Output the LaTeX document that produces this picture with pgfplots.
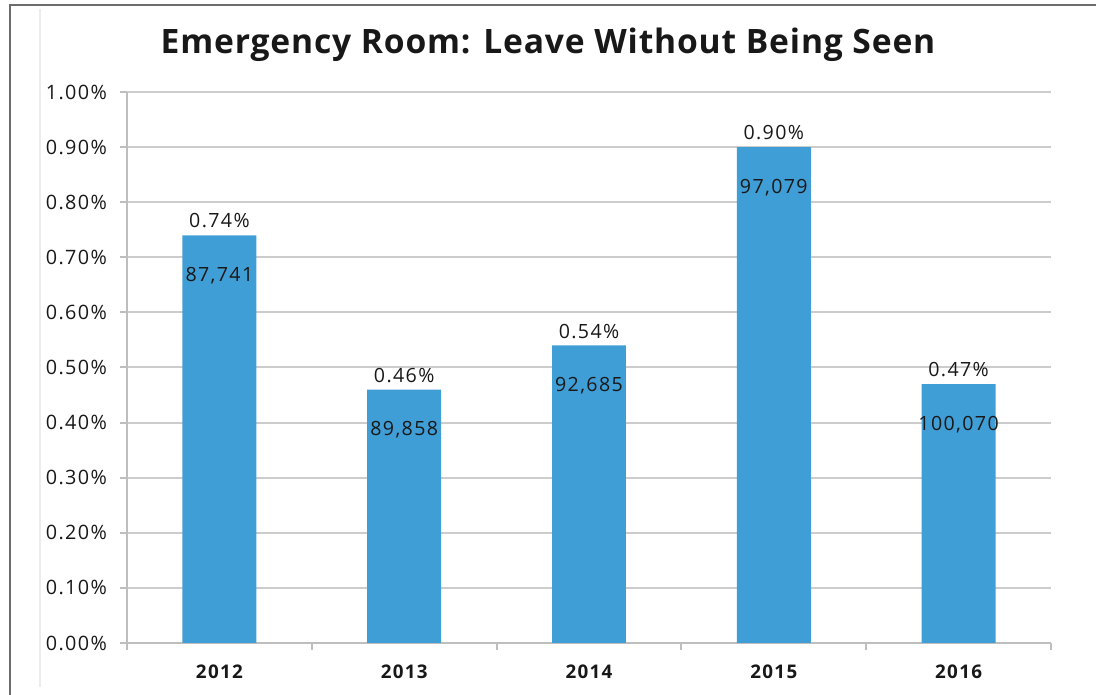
\documentclass[border=0pt]{standalone}
\usepackage{pgfplots}
\pgfplotsset{compat=1.18}
\usepackage{pgfplotstable}
\usepackage{fontspec}
\setmainfont{Open Sans}
\newfontfamily\lblfont[LetterSpace=7]{Open Sans}
\newfontfamily\ttlfont[LetterSpace=2.5]{Open Sans}
\definecolor{barblue}{RGB}{64,158,214}
\definecolor{gridgray}{RGB}{204,204,204}
\definecolor{axgray}{RGB}{190,190,190}
\definecolor{txt}{RGB}{24,24,24}

% year index, LWBS rate (%), ER visits
\pgfplotstableread{
x pct n
0 0.74 87,741
1 0.46 89,858
2 0.54 92,685
3 0.90 97,079
4 0.47 100,070
}\lwbs

\begin{document}
\begin{tikzpicture}
  \useasboundingbox (0pt,0pt) rectangle (548pt,347.5pt);
  % frame of the slide
  \draw[gray!85!black, line width=0.9pt] (5pt,0pt) -- (5pt,345pt) -- (548pt,345pt);
  \draw[gray!15, line width=0.6pt] (20pt,343pt) -- (20pt,4pt);
  \node[text=txt, font=\ttlfont\bfseries\fontsize{16.8}{20}\selectfont] at (274pt,325pt)
    {Emergency Room: Leave Without Being Seen};
  \begin{axis}[
    at={(63.5pt,26pt)}, anchor=south west, scale only axis,
    width=462pt, height=275.5pt,
    xmin=-0.5, xmax=4.5, ymin=0, ymax=1,
    axis x line*=bottom, axis y line*=left,
    axis line style={axgray, line width=1pt},
    ymajorgrids, grid style={gridgray, line width=1pt},
    tick align=outside, major tick length=3.5pt,
    tick style={axgray, line width=1pt},
    xtick={-0.5,0.5,...,4.5}, x tick label as interval,
    xticklabels={2012,2013,2014,2015,2016},
    ytick distance=0.1,
    /pgf/number format/assume math mode=true,
    yticklabel={\pgfmathprintnumber[fixed,fixed zerofill,precision=2]{\tick}\%},
    ticklabel style={text=txt, font=\lblfont\fontsize{9.9}{11}\selectfont},
    yticklabel style={xshift=-3pt},
    xticklabel style={yshift=-4pt, font=\lblfont\bfseries\fontsize{9.4}{11}\selectfont},
    bar width=0.4,
    every node near coord/.append style={text=txt, font=\lblfont\fontsize{9.8}{11}\selectfont},
  ]
    \addplot[ybar, fill=barblue, draw=none,
      nodes near coords={\pgfmathprintnumber[fixed,fixed zerofill,precision=2]{\pgfplotspointmeta}\%}]
      table[x=x, y=pct] {\lwbs};
    \addplot[draw=none, mark=none, point meta=explicit symbolic,
      nodes near coords, nodes near coords style={anchor=north, yshift=-12.5pt}]
      table[x=x, y=pct, meta=n] {\lwbs};
  \end{axis}
\end{tikzpicture}
\end{document}
